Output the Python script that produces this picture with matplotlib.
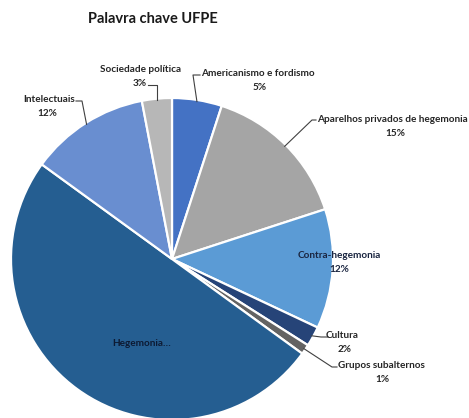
import numpy as np
import matplotlib
matplotlib.use("Agg")
import matplotlib.pyplot as plt

categories = ["Americanismo e fordismo", "Aparelhos privados de hegemonia",
              "Contra-hegemonia", "Cultura", "Grupos subalternos",
              "Hegemonia", "Intelectuais", "Sociedade política"]
values = [5, 15, 12, 2, 1, 50, 12, 3]
pct_labels = ["5%", "15%", "12%", "2%", "1%", "", "12%", "3%"]
colors = ["#4472C4", "#A5A5A5", "#5B9BD5", "#264478", "#636363",
          "#255E91", "#698ED0", "#B7B7B7"]

W, H = 469, 418
fig = plt.figure(figsize=(W / 100, H / 100), dpi=100)
fig.patch.set_facecolor("white")
plt.rcParams['font.family'] = ['Lato', 'DejaVu Sans']

cx, cy, r = 172, 259, 161
ax = fig.add_axes([(cx - r) / W, (H - cy - r) / H, 2 * r / W, 2 * r / H])
wedges, _ = ax.pie(values, colors=colors, startangle=90, counterclock=False,
                   radius=1.0, wedgeprops=dict(edgecolor="white", linewidth=1.6))
ax.set_xlim(-1, 1)
ax.set_ylim(-1, 1)
ax.set_aspect("auto")
ax.axis("off")
for w in wedges:
    w.set_clip_on(False)

def px(x, y):
    return (x / W, 1 - y / H)

fig.text(*px(153, 19), "Palavra chave UFPE", ha="center", va="center",
         fontsize=10.5, fontweight="bold", color="#1a1a1a")

tc = "#262626"
fs = 7.2
# label layout: (text center px, pct center px, leader polyline px (excluding wedge point))
layout = {
    0: ((258, 73), (260, 87), [(200, 75), (193, 75)]),
    1: ((392, 120), (395, 133), [(316, 120), (312, 120)]),
    3: ((342, 336), (345, 349), [(328, 337), (321, 337)]),
    4: ((381, 366), (382, 379), [(337, 367), (332, 367)]),
    6: ((49, 100), (47, 113), [(76, 101), (82, 101)]),
    7: ((141, 70), (140, 83), [(148, 85), (157, 85)]),
}

to_fig = fig.transFigure.inverted()
for i, (tpos, ppos, poly) in layout.items():
    fig.text(*px(*tpos), categories[i], ha="center", va="center",
             fontsize=fs, fontweight="bold", color=tc)
    fig.text(*px(*ppos), pct_labels[i], ha="center", va="center",
             fontsize=fs, fontweight="bold", color=tc)
    w = wedges[i]
    mid = np.deg2rad((w.theta1 + w.theta2) / 2)
    edge = (0.99 * np.cos(mid), 0.99 * np.sin(mid))
    ef = to_fig.transform(ax.transData.transform(edge))
    pts = [px(*p) for p in poly] + [tuple(ef)]
    xs, ys = zip(*pts)
    fig.add_artist(plt.Line2D(xs, ys, transform=fig.transFigure,
                              color="#404040", linewidth=0.8))

# inside labels
fig.text(*px(339, 256), categories[2], ha="center", va="center",
         fontsize=fs, fontweight="bold", color="#1a2540")
fig.text(*px(339, 270), pct_labels[2], ha="center", va="center",
         fontsize=fs, fontweight="bold", color="#1a2540")
fig.text(*px(142, 344), "Hegemonia…", ha="center", va="center",
         fontsize=fs, fontweight="bold", color="#0d1a33")

fig.savefig("out.png", dpi=100, facecolor="white")
